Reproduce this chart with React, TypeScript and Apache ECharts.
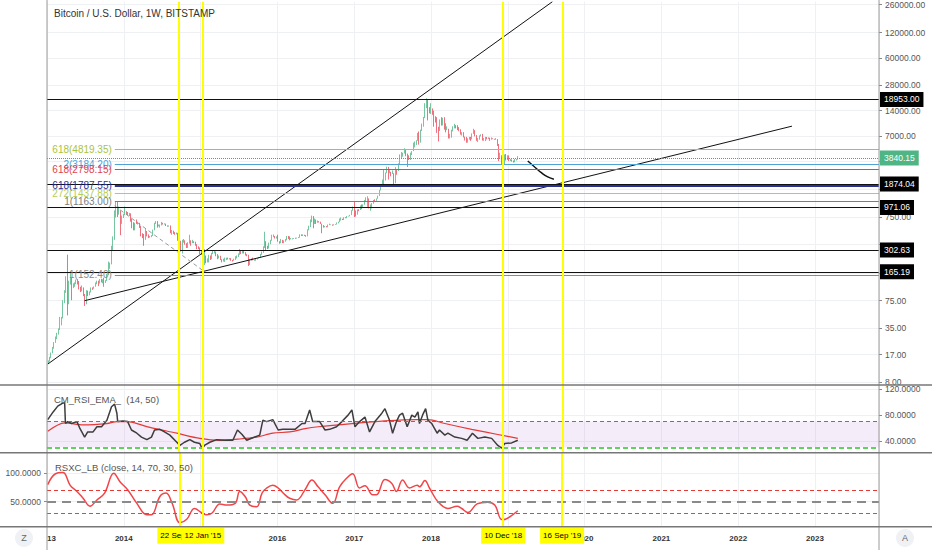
import React, { useEffect, useRef } from 'react';
import * as echarts from 'echarts';

// ---------- DATA ----------
const FIRST_WEEK = '2013-01-07';
const FIRST_OPEN = 13.5;

const closes = [
  // 2013
  14.2, 15.6, 17.8, 20.4, 23.6, 27, 30, 34, 46, 47, 71, 94, 142, 90, 125, 135, 112, 117, 123, 133, 129, 108, 100, 108, 88, 76,
  98, 91, 96, 107, 106, 110, 120, 127, 121, 134, 125, 133, 125, 130, 153, 185, 205, 305, 425, 740, 1120, 850, 885, 650, 770, 810,
  // 2014
  870, 830, 800, 810, 680, 640, 600, 635, 630, 630, 565, 480, 445, 420, 495, 460, 440, 440, 450, 525, 630, 650, 590, 595, 600, 630,
  620, 620, 590, 585, 590, 500, 510, 480, 475, 475, 400, 375, 320, 375, 390, 355, 335, 365, 385, 375, 380, 375, 350, 330, 315, 275,
  // 2015
  270, 210, 255, 225, 225, 255, 245, 275, 275, 285, 265, 250, 255, 235, 225, 225, 240, 240, 235, 240, 230, 225, 235, 245, 255, 270,
  290, 275, 290, 280, 265, 260, 230, 230, 235, 230, 230, 235, 240, 245, 270, 285, 325, 385, 330, 325, 360, 390, 435, 445, 420, 430,
  // 2016
  385, 380, 400, 375, 385, 400, 440, 430, 410, 410, 410, 415, 420, 420, 430, 460, 450, 460, 455, 445, 525, 580, 670, 760, 670, 700,
  650, 665, 655, 625, 590, 570, 580, 570, 605, 605, 605, 600, 610, 615, 640, 655, 700, 705, 700, 730, 730, 765, 770, 790, 900, 1000,
  // 2017
  900, 820, 920, 915, 1010, 1000, 1050, 1175, 1230, 1230, 960, 960, 1090, 1190, 1170, 1240, 1340, 1560, 1720, 2050, 2050, 2540, 2950, 2500, 2560, 2500,
  2500, 1930, 2750, 2730, 3230, 4050, 4100, 4350, 4600, 4250, 3700, 3600, 4350, 4600, 5600, 5950, 6150, 7400, 5900, 8000, 9700, 11500, 15000, 19000, 13900, 13400,
  // 2018
  14200, 13700, 11500, 11100, 8200, 8100, 10300, 9600, 11400, 9100, 8200, 8500, 6900, 6900, 8000, 8900, 9300, 8700, 8500, 8200, 7350, 7650, 6770, 6450, 6150, 6380,
  6760, 6350, 7400, 8200, 7000, 6300, 6400, 7050, 7270, 6250, 6500, 6700, 6600, 6580, 6300, 6500, 6450, 6400, 6350, 5550, 3800, 4100, 3600, 3200, 3950, 3850, 4000,
  // 2019
  3550, 3550, 3540, 3410, 3630, 3650, 3840.15,
];

const highs = [
  14.5, 16, 18, 21, 24, 28, 31, 35, 48, 48, 76, 100, 147, 266, 130, 165, 140, 121, 124, 134, 135, 123, 110, 114, 105, 90,
  100, 99, 97, 108, 108, 111, 124, 130, 130, 136, 137, 135, 141, 132, 156, 220, 214, 340, 440, 900, 1163, 1150, 1000, 900, 780, 820,
  1000, 880, 860, 840, 830, 720, 650, 640, 700, 660, 640, 590, 480, 470, 540, 510, 465, 445, 455, 530, 640, 670, 670, 610, 610, 655,
  640, 630, 625, 595, 595, 595, 525, 515, 495, 490, 485, 415, 390, 400, 410, 395, 365, 375, 460, 395, 400, 385, 380, 355, 335, 325,
  300, 280, 310, 260, 240, 265, 260, 280, 300, 297, 290, 270, 260, 258, 235, 238, 245, 245, 245, 242, 242, 230, 238, 255, 260, 275,
  310, 295, 300, 297, 285, 270, 265, 235, 240, 245, 233, 238, 242, 250, 272, 290, 335, 500, 380, 340, 370, 400, 460, 465, 445, 440,
  460, 385, 410, 395, 395, 410, 445, 445, 440, 420, 418, 420, 425, 425, 432, 465, 465, 465, 460, 455, 535, 590, 700, 780, 770, 720,
  700, 680, 670, 660, 620, 600, 585, 585, 610, 625, 612, 610, 615, 620, 645, 660, 720, 740, 715, 745, 750, 770, 775, 795, 905, 1000,
  1150, 900, 925, 930, 1030, 1060, 1060, 1200, 1290, 1330, 1250, 1060, 1100, 1200, 1220, 1250, 1350, 1580, 1760, 2100, 2780, 2550, 3000, 2980, 2760, 2600,
  2700, 2500, 2960, 2810, 3290, 4200, 4480, 4400, 4980, 4750, 4300, 4100, 4400, 4600, 5800, 6000, 6200, 7600, 7900, 8300, 9800, 11800, 17200, 19666, 19200, 15400,
  17200, 14900, 14000, 12000, 11700, 9000, 11000, 11700, 11500, 11700, 9900, 9100, 8500, 7400, 8300, 9100, 9750, 9400, 9400, 8900, 8400, 7750, 7750, 6850, 6800, 6550,
  6800, 6800, 7500, 8500, 8200, 7150, 6600, 7100, 7300, 7400, 6600, 6800, 6780, 6700, 6650, 6700, 6550, 6450, 6550, 6400, 5600, 4400, 4100, 3600, 4200, 4250, 4100,
  4080, 3700, 3650, 3550, 3700, 3700, 4000,
];

const lows = [
  13.3, 14, 15.4, 17.6, 20, 23.5, 26, 29.5, 33.5, 38, 46, 70, 93, 50, 68, 117, 76, 106, 110, 118, 117, 102, 95, 97, 85, 65,
  68, 85, 87, 94, 101, 104, 110, 118, 112, 120, 124, 121, 110, 122, 129, 152, 180, 204, 300, 400, 750, 750, 800, 455, 620, 730,
  790, 800, 780, 770, 660, 550, 520, 520, 620, 610, 555, 440, 420, 340, 400, 440, 420, 425, 430, 445, 520, 620, 560, 580, 560, 595,
  610, 610, 585, 575, 575, 480, 460, 470, 460, 465, 390, 370, 290, 275, 370, 350, 320, 320, 360, 340, 365, 365, 340, 310, 310, 270,
  265, 152, 200, 210, 215, 215, 230, 235, 270, 275, 255, 235, 240, 230, 215, 220, 218, 230, 233, 233, 225, 220, 225, 230, 240, 250,
  265, 270, 275, 275, 260, 255, 195, 200, 225, 228, 225, 225, 233, 240, 245, 265, 280, 320, 300, 310, 315, 355, 390, 430, 415, 415,
  380, 360, 365, 365, 365, 380, 395, 410, 395, 405, 405, 410, 410, 415, 420, 425, 445, 445, 445, 435, 440, 520, 570, 650, 550, 620,
  620, 640, 645, 620, 480, 560, 565, 565, 565, 600, 600, 590, 595, 605, 610, 630, 650, 680, 690, 690, 725, 725, 760, 765, 790, 890,
  750, 760, 800, 880, 910, 930, 990, 1050, 1160, 990, 950, 890, 950, 1080, 1160, 1170, 1240, 1340, 1560, 1720, 1850, 2100, 2500, 2100, 2500, 2300,
  2450, 1850, 1900, 2400, 2650, 3200, 3800, 3950, 4300, 4000, 2970, 3600, 3600, 4130, 4600, 5100, 5450, 6100, 5500, 5800, 8000, 9000, 11400, 15000, 10700, 13000,
  12800, 12500, 9000, 10100, 7600, 6000, 8000, 9300, 9300, 8300, 7700, 8200, 6500, 6500, 6650, 7900, 8600, 8600, 8200, 7950, 7250, 7050, 6700, 6150, 5800, 5800,
  6300, 6100, 6350, 7400, 6900, 6100, 5900, 6300, 6900, 6150, 6100, 6050, 6350, 6450, 6100, 6300, 6400, 6300, 6300, 5300, 3500, 3700, 3200, 3150, 3200, 3550, 3600,
  3500, 3500, 3450, 3360, 3380, 3550, 3640,
];

// RSI (14): [decimal year, value]
const rsiPoints = [
  [2013.01, 73], [2013.08, 85], [2013.14, 94], [2013.21, 99], [2013.23, 99], [2013.24, 67], [2013.27, 70], [2013.32, 67],
  [2013.39, 70], [2013.43, 59], [2013.49, 46], [2013.53, 54], [2013.6, 54], [2013.65, 62], [2013.71, 62], [2013.78, 72],
  [2013.84, 93], [2013.88, 97], [2013.91, 83], [2013.92, 70], [2013.99, 71], [2014.05, 70], [2014.1, 57], [2014.17, 52],
  [2014.23, 46], [2014.3, 42], [2014.36, 46], [2014.4, 57], [2014.47, 58], [2014.53, 54], [2014.6, 49], [2014.69, 38],
  [2014.73, 33], [2014.79, 38], [2014.86, 42], [2014.92, 38], [2014.99, 36], [2015.02, 28], [2015.05, 33], [2015.12, 38],
  [2015.21, 42], [2015.32, 41], [2015.42, 41], [2015.48, 57], [2015.54, 50], [2015.6, 41], [2015.68, 45], [2015.77, 49],
  [2015.81, 72], [2015.86, 70], [2015.94, 73], [2016.01, 57], [2016.07, 58], [2016.16, 58], [2016.23, 58], [2016.32, 67],
  [2016.36, 67], [2016.42, 88], [2016.46, 70], [2016.55, 70], [2016.62, 57], [2016.68, 58], [2016.77, 62], [2016.84, 70],
  [2016.92, 80], [2016.97, 88], [2017.01, 62], [2017.07, 70], [2017.14, 77], [2017.2, 54], [2017.27, 70], [2017.36, 83],
  [2017.4, 90], [2017.46, 72], [2017.5, 52], [2017.55, 70], [2017.59, 80], [2017.63, 83], [2017.69, 62], [2017.75, 80],
  [2017.79, 77], [2017.83, 85], [2017.85, 67], [2017.89, 80], [2017.93, 90], [2017.96, 72], [2018.01, 67], [2018.08, 52],
  [2018.11, 57], [2018.18, 49], [2018.22, 52], [2018.31, 46], [2018.4, 44], [2018.47, 41], [2018.54, 52], [2018.61, 44],
  [2018.7, 46], [2018.79, 44], [2018.87, 33], [2018.92, 29], [2018.96, 36], [2019.05, 37], [2019.13, 41],
];

// EMA (50) of the RSI
const rsiEma = [
  [2013.01, 55], [2013.23, 68], [2013.47, 65], [2013.78, 67], [2013.91, 70], [2014.04, 70], [2014.34, 61], [2014.69, 52],
  [2014.99, 44], [2015.25, 41], [2015.51, 43], [2015.73, 46], [2015.94, 52], [2016.16, 54], [2016.36, 59], [2016.53, 62],
  [2016.97, 67], [2017.4, 71], [2017.83, 73], [2017.96, 73], [2018.18, 67], [2018.53, 58], [2018.87, 50], [2019.13, 44],
];

// RSXC_LB
const rsxcPoints = [
  [2013.01, 80], [2013.11, 99], [2013.2, 101], [2013.23, 100], [2013.3, 79], [2013.39, 68], [2013.47, 56], [2013.56, 42],
  [2013.65, 53], [2013.75, 65], [2013.87, 100], [2013.95, 85], [2014.05, 71], [2014.17, 47], [2014.3, 27], [2014.36, 27],
  [2014.47, 59], [2014.55, 65], [2014.63, 47], [2014.73, 13], [2014.82, 19], [2014.92, 38], [2015.02, 30], [2015.08, 27],
  [2015.15, 30], [2015.25, 46], [2015.34, 44], [2015.45, 47], [2015.51, 68], [2015.58, 59], [2015.64, 44], [2015.73, 41],
  [2015.8, 65], [2015.86, 74], [2015.94, 79], [2016.01, 74], [2016.1, 62], [2016.16, 56], [2016.25, 53], [2016.36, 71],
  [2016.45, 88], [2016.53, 76], [2016.62, 62], [2016.72, 47], [2016.81, 76], [2016.9, 91], [2016.98, 99], [2017.07, 74],
  [2017.14, 78], [2017.24, 62], [2017.29, 62], [2017.4, 89], [2017.49, 82], [2017.55, 68], [2017.63, 88], [2017.72, 74],
  [2017.82, 79], [2017.85, 76], [2017.92, 87], [2017.98, 74], [2018.09, 50], [2018.22, 38], [2018.34, 42], [2018.4, 38],
  [2018.48, 31], [2018.6, 46], [2018.74, 49], [2018.83, 44], [2018.93, 18], [2019.13, 34],
];

// axis ticks
const priceTicks = [260000, 120000, 60000, 28000, 14000, 7000, 3500, 1600, 750, 350, 160, 75, 35, 17, 8];
const priceLabels = [260000, 120000, 60000, 28000, 14000, 7000, 750, 75, 35, 17, 8];
const rsiLabels = [40, 80, 120];
const rsxcLabels = [50, 100];
const yearLabels = [2013, 2014, 2016, 2017, 2018, 2020, 2021, 2022, 2023];

// horizontal price levels with axis tags
const levelValues = [18953, 1874.04, 971.06, 302.63, 165.19];
const levelTags = ['18953.00', '1874.04', '971.06', '302.63', '165.19'];
const lastPrice = 3840.15;

// fib levels drawn from the Nov 2013 top
const fibStart = 2013.883;
const fibValues = [4819.35, 3184.2, 2798.15, 1787.55, 1437.88, 1163.0, 152.4];
const fibTexts = ['618(4819.35)', '2(3184.20)', '618(2798.15)', '618(1787.55)', '272(1437.88)', '1(1163.00)', '1(152.40)'];
const fibColors = ['#aac43c', '#4fa3d6', '#e0434b', '#2c3194', '#b5cc55', '#7d7d7d', '#8a8a8a'];

// drawn trend lines: [decimal year, price]
const steepLine = [[2013.01, 13.1], [2019.58, 280500]];
const supportLine = [[2013.49, 75], [2022.7, 9140]];
const dashedLine = [[2013.88, 1021], [2015.03, 172]];
const projection = [[2019.26, 3500], [2019.35, 2972], [2019.44, 2523], [2019.52, 2262], [2019.6, 2122]];

// vertical markers
const markerDates = ['2014-09-22', '2015-01-12', '2018-12-10', '2019-09-16'];
const markerTags = ["22 Sep '14", "12 Jan '15", "10 Dec '18", "16 Sep '19"];

// ---------- helpers ----------
const X_MIN = 2013;
const X_MAX = 2023.8333;
const LOG_MIN = 0.8673;
const LOG_MAX = 5.448;
const RSI_MIN = 21.8, RSI_MAX = 126.7;
const RSXC_MIN = 6, RSXC_MAX = 136;
const lg = (v: number) => Math.log10(v);
const tsToYear = (t: number) => {
  const y = new Date(t).getUTCFullYear();
  const s = Date.UTC(y, 0, 1), e = Date.UTC(y + 1, 0, 1);
  return y + (t - s) / (e - s);
};
const isoToYear = (iso: string) => {
  const [y, m, d] = iso.split('-').map(Number);
  return tsToYear(Date.UTC(y, m - 1, d));
};

export default function App() {
  const ref = useRef<HTMLDivElement>(null);
  useEffect(() => {
    if (!ref.current) return;
    const chart = echarts.init(ref.current, undefined, { renderer: 'svg' });
    const FONT = 'Liberation Sans, Arial, sans-serif';

    const t0 = isoToYear(FIRST_WEEK);
    const [fy, fm, fd] = FIRST_WEEK.split('-').map(Number);
    const base = Date.UTC(fy, fm - 1, fd);
    const candles = closes.map((c, i) => {
      const o = i === 0 ? FIRST_OPEN : closes[i - 1];
      const h = Math.max(highs[i], o, c);
      const l = Math.min(lows[i], o, c);
      const x = i === 0 ? t0 : tsToYear(base + i * 7 * 86400000);
      return [x, lg(o), lg(c), lg(l), lg(h)];
    });

    const yellow = '#ffff00';
    const markerXs = markerDates.map(isoToYear);

    const hLevels = levelValues.map((v, i) => ({
      yAxis: lg(v),
      lineStyle: { color: '#111', width: 1, type: 'solid' },
      label: {
        show: true, position: 'end', distance: 1, formatter: levelTags[i],
        color: '#fff', backgroundColor: '#000', padding: [3, 4], fontSize: 8.5, fontFamily: FONT,
      },
    }));
    const lastLevel = {
      yAxis: lg(lastPrice),
      lineStyle: { color: '#35a89a', width: 1, type: 'dotted' },
      label: {
        show: true, position: 'end', distance: 1, formatter: lastPrice.toFixed(2),
        color: '#fff', backgroundColor: '#4fb585', padding: [3, 4], fontSize: 8.5, fontFamily: FONT,
      },
    };
    const fibs = fibValues.map((v, i) => [
      {
        coord: [fibStart, lg(v)],
        lineStyle: { color: fibColors[i], width: i === 3 ? 2 : 1, type: 'solid' },
        label: {
          show: true, position: 'start', distance: 3, formatter: fibTexts[i],
          color: fibColors[i], fontSize: 10, fontFamily: FONT,
        },
      },
      { coord: [X_MAX, lg(v)] },
    ]);
    const vLines = markerXs.map((x) => ({
      xAxis: x, lineStyle: { color: yellow, width: 2, type: 'solid' }, label: { show: false },
    }));
    const vTagLines = markerXs.map((x, i) => [
      {
        coord: [x, RSXC_MAX],
        lineStyle: { color: yellow, width: 2, type: 'solid' },
        label: {
          show: true, position: 'end', distance: 1, formatter: markerTags[i],
          color: '#000', backgroundColor: yellow, padding: [4, 3], fontSize: 8, fontFamily: FONT,
        },
      },
      { coord: [x, RSXC_MIN] },
    ]);

    const logPts = (arr: number[][]) => arr.map(([x, p]) => [x, lg(p)]);

    const gridLine = { show: true, lineStyle: { color: '#eef0f4', width: 1 } };

    const option: any = {
      animation: false,
      backgroundColor: '#ffffff',
      textStyle: { fontFamily: FONT },
      grid: [
        { left: 47, top: 0, width: 832, height: 385 },
        { left: 47, top: 385, width: 832, height: 67.7 },
        { left: 47, top: 452.7, width: 832, height: 74 },
      ],
      xAxis: [0, 1, 2].map((g) => ({
        type: 'value', gridIndex: g, min: X_MIN, max: X_MAX, interval: 1,
        axisLine: { show: false }, axisTick: { show: false },
        splitLine: gridLine,
        axisLabel: g === 2
          ? {
              show: true, customValues: yearLabels, alignMinLabel: 'left',
              formatter: (v: number) => (Math.round(v) === 2013 ? '13' : String(Math.round(v))),
              fontSize: 8, fontWeight: 'bold', color: '#333', margin: 8,
            }
          : { show: false },
      })),
      yAxis: [
        {
          type: 'value', gridIndex: 0, position: 'right', min: LOG_MIN, max: LOG_MAX,
          axisLine: { show: false },
          axisTick: { show: true, customValues: priceTicks.map(lg), length: 3, lineStyle: { color: '#888' } },
          axisLabel: {
            customValues: priceLabels.map(lg),
            formatter: (v: number) => Math.round(Math.pow(10, v)).toFixed(2),
            fontSize: 8.5, color: '#555', margin: 6,
          },
          splitLine: gridLine,
        },
        {
          type: 'value', gridIndex: 1, position: 'right', min: RSI_MIN, max: RSI_MAX,
          axisLine: { show: false },
          axisTick: { show: true, customValues: rsiLabels, length: 3, lineStyle: { color: '#888' } },
          axisLabel: { customValues: rsiLabels, formatter: (v: number) => v.toFixed(4), fontSize: 8.5, color: '#555', margin: 6 },
          splitLine: gridLine,
        },
        {
          type: 'value', gridIndex: 2, position: 'left', min: RSXC_MIN, max: RSXC_MAX,
          axisLine: { show: false },
          axisTick: { show: true, customValues: rsxcLabels, length: 3, lineStyle: { color: '#888' } },
          axisLabel: { customValues: rsxcLabels, formatter: (v: number) => v.toFixed(4), fontSize: 8.5, color: '#555', margin: 6 },
          splitLine: gridLine,
        },
      ],
      series: [
        {
          type: 'candlestick', name: 'BTCUSD', xAxisIndex: 0, yAxisIndex: 0,
          data: candles, encode: { x: 0, y: [1, 2, 3, 4] }, barWidth: 1,
          itemStyle: { color: '#53b987', color0: '#eb4d5c', borderColor: '#53b987', borderColor0: '#eb4d5c', borderWidth: 0.8 },
          markLine: {
            symbol: ['none', 'none'], silent: true, animation: false,
            data: [...fibs, ...hLevels, lastLevel, ...vLines],
          },
          z: 3,
        },
        {
          type: 'line', xAxisIndex: 0, yAxisIndex: 0, data: logPts(steepLine), showSymbol: false,
          lineStyle: { color: '#111', width: 1 }, silent: true, z: 4,
        },
        {
          type: 'line', xAxisIndex: 0, yAxisIndex: 0, data: logPts(supportLine), showSymbol: false,
          lineStyle: { color: '#111', width: 1 }, silent: true, z: 4,
        },
        {
          type: 'line', xAxisIndex: 0, yAxisIndex: 0, data: logPts(dashedLine), showSymbol: false,
          lineStyle: { color: '#999', width: 1, type: [4, 3] }, silent: true, z: 4,
        },
        {
          type: 'line', xAxisIndex: 0, yAxisIndex: 0, data: logPts(projection), showSymbol: false, smooth: 0.5,
          lineStyle: { color: '#111', width: 1.5 }, silent: true, z: 4,
        },
        {
          type: 'line', name: 'RSI', xAxisIndex: 1, yAxisIndex: 1, data: rsiPoints, showSymbol: false,
          lineStyle: { color: '#3d3d3d', width: 1.5 }, silent: true, z: 4,
          markArea: {
            silent: true,
            itemStyle: { color: 'rgba(170, 110, 200, 0.13)' },
            data: [[{ yAxis: 30 }, { yAxis: 70 }]],
          },
          markLine: {
            symbol: ['none', 'none'], silent: true, animation: false, label: { show: false },
            data: [
              { yAxis: 70, lineStyle: { color: '#e04848', width: 1, type: [4, 3] } },
              { yAxis: 30, lineStyle: { color: '#5bd65b', width: 2, type: [5, 3] } },
              ...vLines,
            ],
          },
        },
        {
          type: 'line', name: 'EMA', xAxisIndex: 1, yAxisIndex: 1, data: rsiEma, showSymbol: false, smooth: 0.3,
          lineStyle: { color: '#e53935', width: 1.2 }, silent: true, z: 3,
        },
        {
          type: 'line', name: 'RSXC', xAxisIndex: 2, yAxisIndex: 2, data: rsxcPoints, showSymbol: false, smooth: 0.4,
          lineStyle: { color: '#f0464a', width: 1.5 }, silent: true, z: 4,
          markLine: {
            symbol: ['none', 'none'], silent: true, animation: false,
            data: [
              { yAxis: 70, lineStyle: { color: '#e53935', width: 1, type: [4, 3] }, label: { show: false } },
              { yAxis: 50, lineStyle: { color: '#8a8a8a', width: 2, type: [9, 6] }, label: { show: false } },
              { yAxis: 30, lineStyle: { color: '#3c9a3c', width: 1, type: [4, 3] }, label: { show: false } },
              ...vTagLines,
            ],
          },
        },
      ],
      graphic: [
        { type: 'line', shape: { x1: 47, y1: 0, x2: 47, y2: 550 }, style: { stroke: '#9a9a9a', lineWidth: 1 }, silent: true, z: 50 },
        { type: 'line', shape: { x1: 879, y1: 0, x2: 879, y2: 550 }, style: { stroke: '#9a9a9a', lineWidth: 1 }, silent: true, z: 50 },
        { type: 'line', shape: { x1: 0, y1: 385, x2: 932, y2: 385 }, style: { stroke: '#777', lineWidth: 1.5 }, silent: true, z: 50 },
        { type: 'line', shape: { x1: 0, y1: 452.7, x2: 932, y2: 452.7 }, style: { stroke: '#777', lineWidth: 1.5 }, silent: true, z: 50 },
        { type: 'line', shape: { x1: 0, y1: 526.7, x2: 932, y2: 526.7 }, style: { stroke: '#777', lineWidth: 1.5 }, silent: true, z: 50 },
        {
          type: 'text', left: 54, top: 8, z: 60,
          style: { text: 'Bitcoin / U.S. Dollar, 1W, BITSTAMP', fill: '#333', fontSize: 10, fontFamily: FONT },
        },
        {
          type: 'text', left: 54, top: 394, z: 60,
          style: { text: 'CM_RSI_EMA_  (14, 50)', fill: '#555', fontSize: 9.5, fontFamily: FONT },
        },
        {
          type: 'text', left: 55, top: 462, z: 60,
          style: { text: 'RSXC_LB (close, 14, 70, 30, 50)', fill: '#555', fontSize: 9.5, fontFamily: FONT },
        },
        { type: 'circle', shape: { cx: 24, cy: 538, r: 9 }, style: { fill: '#f0f1f4' }, silent: true, z: 60 },
        {
          type: 'text', x: 24, y: 538, z: 61,
          style: { text: 'Z', fill: '#666', fontSize: 9, fontFamily: FONT, align: 'center', verticalAlign: 'middle' },
        },
        { type: 'circle', shape: { cx: 905, cy: 538, r: 9 }, style: { fill: '#f0f1f4' }, silent: true, z: 60 },
        {
          type: 'text', x: 905, y: 538, z: 61,
          style: { text: 'A', fill: '#666', fontSize: 9, fontFamily: FONT, align: 'center', verticalAlign: 'middle' },
        },
      ],
    };

    chart.setOption(option);
    return () => chart.dispose();
  }, []);

  return <div ref={ref} style={{ position: 'absolute', left: 0, top: 0, width: 932, height: 550 }} />;
}
